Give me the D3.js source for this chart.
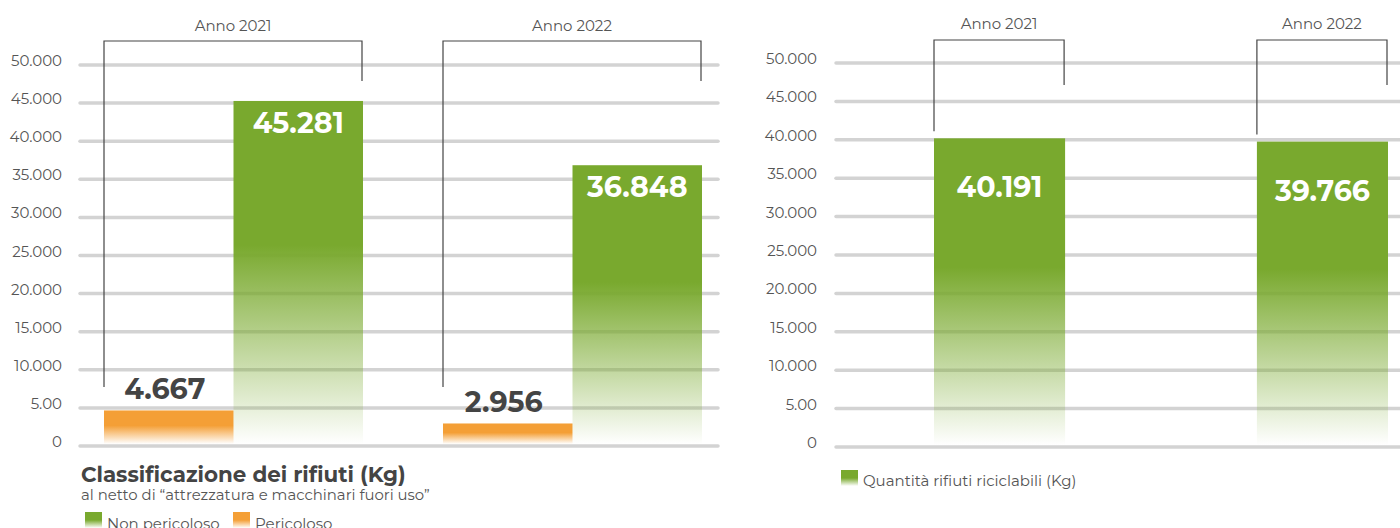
<!DOCTYPE html>
<html>
<head>
<meta charset="utf-8">
<script src="https://cdn.jsdelivr.net/npm/d3@7"></script>
<style>
  body { margin: 0; background: #fff; }
  svg text { font-family: Montserrat, "Open Sans", sans-serif; }
</style>
</head>
<body>
<div id="chart"></div>
<script>
// data
const years = ["Anno 2021", "Anno 2022"];
const seriesLeft = ["Pericoloso", "Non pericoloso"];
const pericoloso = [4667, 2956];
const nonPericoloso = [45281, 36848];
const riciclabili = [40191, 39766];
const tickValues = [0, 5000, 10000, 15000, 20000, 25000, 30000, 35000, 40000, 45000, 50000];
const tickLabels = ["0", "5.00", "10.000", "15.000", "20.000", "25.000", "30.000", "35.000", "40.000", "45.000", "50.000"];

const GREEN = "#79a92e", ORANGE = "#f49f36", GRID = "#d3d3d3", INK = "#555";
const fmt = v => d3.format(",")(v).replace(/,/g, ".");

const svg = d3.select("#chart").append("svg")
    .attr("width", 1400).attr("height", 528);

const defs = svg.append("defs");
function fadeGradient(id, color, solidTo) {
    let g = defs.append("linearGradient").attr("id", id)
        .attr("x1", 0).attr("y1", 0).attr("x2", 0).attr("y2", 1);
    g.append("stop").attr("offset", 0).attr("stop-color", color).attr("stop-opacity", 1);
    g.append("stop").attr("offset", solidTo).attr("stop-color", color).attr("stop-opacity", 1);
    g.append("stop").attr("offset", 1).attr("stop-color", color).attr("stop-opacity", 0);
}
fadeGradient("fadeGreen", GREEN, 0.42);
fadeGradient("fadeOrange", ORANGE, 0.45);
fadeGradient("swGreen", GREEN, 0.5);
fadeGradient("swOrange", ORANGE, 0.5);

function drawPanel(p) {
    let g = svg.append("g");
    let y = d3.scaleLinear().domain([0, 50000]).range([p.y0, p.y1]);
    let x0 = d3.scaleBand().domain(years).range(p.xRange).paddingInner(p.padInner);
    let x1 = d3.scaleBand().domain(p.series.map(s => s.name)).range([0, x0.bandwidth()]);

    // grid + tick labels
    g.append("g").selectAll("line").data(tickValues).join("line")
        .attr("x1", p.gridX[0]).attr("x2", p.gridX[1])
        .attr("y1", d => y(d)).attr("y2", d => y(d))
        .attr("stroke", GRID).attr("stroke-width", 3.5).attr("stroke-linecap", "round");
    g.append("g").selectAll("text").data(tickValues).join("text")
        .attr("x", p.tickX).attr("y", d => y(d) + 1)
        .attr("text-anchor", "end").attr("font-size", 15).attr("fill", INK)
        .text((d, i) => tickLabels[i]);

    // bars
    p.series.forEach(s => {
        let bg = g.append("g");
        bg.selectAll("rect").data(s.values).join("rect")
            .attr("x", (d, i) => x0(years[i]) + x1(s.name))
            .attr("y", d => y(d))
            .attr("width", x1.bandwidth())
            .attr("height", d => y(0) - 2 - y(d))
            .attr("fill", `url(#${s.fill})`);
        bg.selectAll("text").data(s.values).join("text")
            .attr("x", (d, i) => x0(years[i]) + x1(s.name) + x1.bandwidth() / 2 + s.dx)
            .attr("y", d => y(d) + s.labelDy)
            .attr("text-anchor", "middle").attr("font-size", 28.5).attr("font-weight", 700)
            .attr("fill", s.labelColor)
            .text(d => fmt(d));
    });

    // year brackets
    years.forEach((yr, i) => {
        let xl = x0(yr), xr = x0(yr) + x0.bandwidth() - 1;
        let legL = p.leftLeg(i, y);
        g.append("path")
            .attr("d", `M${xl},${legL}V${p.bracketTop}H${xr}V${p.rightLeg}`)
            .attr("fill", "none").attr("stroke", "#444").attr("stroke-width", 1.2);
        g.append("text")
            .attr("x", (xl + xr) / 2).attr("y", p.yearY)
            .attr("text-anchor", "middle").attr("font-size", 15).attr("fill", INK)
            .text(yr);
    });
    return g;
}

// left panel
drawPanel({
    y0: 446, y1: 65,
    xRange: [104, 702], padInner: 0.236,
    gridX: [80, 718], tickX: 62,
    bracketTop: 41, rightLeg: 81, yearY: 31,
    leftLeg: () => 387,
    series: [
        { name: "Pericoloso", values: pericoloso, fill: "fadeOrange", labelColor: "#444", labelDy: -11, dx: -4 },
        { name: "Non pericoloso", values: nonPericoloso, fill: "fadeGreen", labelColor: "#fff", labelDy: 32, dx: 0 }
    ]
});

// right panel
drawPanel({
    y0: 447, y1: 63,
    xRange: [934, 1388], padInner: 0.594,
    gridX: [836, 1402], tickX: 817,
    bracketTop: 40, rightLeg: 85, yearY: 29,
    leftLeg: (i, y) => y(riciclabili[i]) - 7,
    series: [
        { name: "Riciclabili", values: riciclabili, fill: "fadeGreen", labelColor: "#fff", labelDy: 59, dx: 0 }
    ]
});

// left title + legend
svg.append("text").attr("x", 81).attr("y", 482)
    .attr("font-size", 21.4).attr("font-weight", 700).attr("fill", "#444")
    .text("Classificazione dei rifiuti (Kg)");
svg.append("text").attr("x", 81).attr("y", 500)
    .attr("font-size", 14.9).attr("fill", INK)
    .text("al netto di “attrezzatura e macchinari fuori uso”");

const legLeft = [
    { label: "Non pericoloso", fill: "swGreen", x: 85 },
    { label: "Pericoloso", fill: "swOrange", x: 233 }
];
legLeft.forEach(l => {
    svg.append("rect").attr("x", l.x).attr("y", 512).attr("width", 17).attr("height", 16)
        .attr("fill", `url(#${l.fill})`);
    svg.append("text").attr("x", l.x + 22).attr("y", 529)
        .attr("font-size", 15).attr("fill", INK).text(l.label);
});

svg.append("rect").attr("x", 841).attr("y", 470).attr("width", 17).attr("height", 16)
    .attr("fill", "url(#swGreen)");
svg.append("text").attr("x", 863).attr("y", 486)
    .attr("font-size", 15).attr("fill", INK).text("Quantità rifiuti riciclabili (Kg)");
</script>
</body>
</html>
